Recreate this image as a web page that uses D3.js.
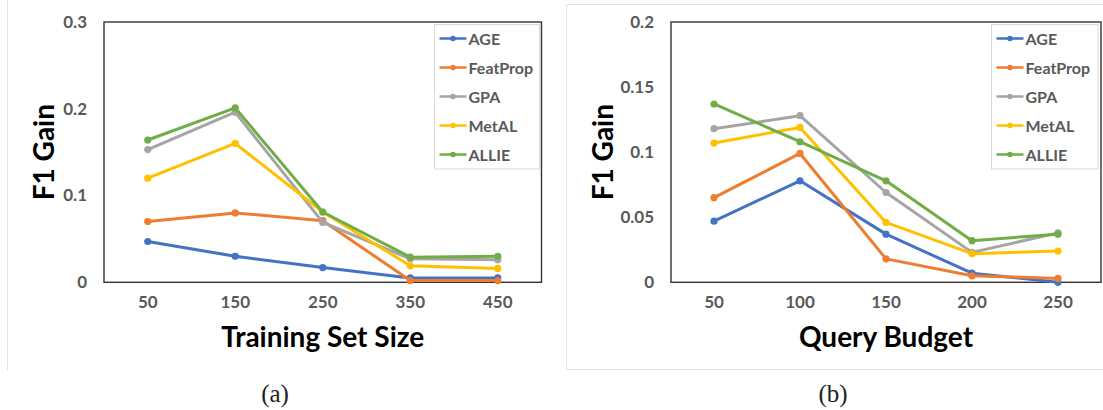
<!DOCTYPE html>
<html>
<head>
<meta charset="utf-8">
<script src="https://cdn.jsdelivr.net/npm/d3@7"></script>
<style>
html, body { margin: 0; padding: 0; background: #ffffff; }
svg { display: block; }
</style>
</head>
<body>
<svg id="chart" width="1103" height="410"></svg>
<script>
// ---------- data ----------
const seriesNames = ["AGE", "FeatProp", "GPA", "MetAL", "ALLIE"];
const seriesColors = ["#4472C4", "#ED7D31", "#A5A5A5", "#FFC000", "#70AD47"];

// Panel (a): Training Set Size
const trainingSizes = ["50", "150", "250", "350", "450"];
const trainAGE      = [0.047, 0.030, 0.017, 0.005, 0.005];
const trainFeatProp = [0.070, 0.080, 0.071, 0.002, 0.002];
const trainGPA      = [0.153, 0.196, 0.069, 0.027, 0.026];
const trainMetAL    = [0.120, 0.160, 0.081, 0.019, 0.016];
const trainALLIE    = [0.164, 0.201, 0.081, 0.029, 0.030];
const trainYTicks   = [0, 0.1, 0.2, 0.3];

// Panel (b): Query Budget
const queryBudgets  = ["50", "100", "150", "200", "250"];
const queryAGE      = [0.047, 0.078, 0.037, 0.007, 0.000];
const queryFeatProp = [0.065, 0.099, 0.018, 0.005, 0.003];
const queryGPA      = [0.118, 0.128, 0.069, 0.023, 0.038];
const queryMetAL    = [0.107, 0.119, 0.046, 0.022, 0.024];
const queryALLIE    = [0.137, 0.108, 0.078, 0.032, 0.037];
const queryYTicks   = [0, 0.05, 0.1, 0.15, 0.2];

const yTitle = "F1 Gain";
const xTitleA = "Training Set Size";
const xTitleB = "Query Budget";
const captionA = "(a)";
const captionB = "(b)";

// ---------- drawing ----------
const svg = d3.select("#chart");
const SANS = "Lato, 'Open Sans', 'Liberation Sans', sans-serif";
const TICK_COLOR = "#595959";

// faint panel borders
svg.append("line")
  .attr("x1", 7.5).attr("x2", 7.5).attr("y1", 0).attr("y2", 370)
  .attr("stroke", "#e4e4e4").attr("stroke-width", 1);
svg.append("rect")
  .attr("x", 566.5).attr("y", 4.5).attr("width", 560).attr("height", 365)
  .attr("fill", "none").attr("stroke", "#e4e4e4").attr("stroke-width", 1);

function drawPanel(cfg) {
  const g = svg.append("g");
  const x = d3.scaleBand().domain(cfg.categories).range([cfg.x0, cfg.x1]).padding(0);
  const cx = c => x(c) + x.bandwidth() / 2;
  const y = d3.scaleLinear().domain([0, cfg.yMax]).range([cfg.y1, cfg.y0]);

  // y axis ticks
  const yAxis = d3.axisLeft(y).tickValues(cfg.yTicks).tickSize(0).tickPadding(17)
    .tickFormat(d => d === 0 ? "0" : String(d));
  const ya = g.append("g").attr("transform", `translate(${cfg.x0},0)`).call(yAxis);
  ya.select(".domain").remove();
  ya.selectAll("text")
    .attr("font-family", SANS).attr("font-weight", "bold").attr("font-size", 17)
    .attr("fill", TICK_COLOR);

  // x axis ticks
  const xAxis = d3.axisBottom(x).tickSize(0).tickPadding(14);
  const xa = g.append("g").attr("transform", `translate(0,${cfg.y1})`).call(xAxis);
  xa.select(".domain").remove();
  xa.selectAll("text")
    .attr("font-family", SANS).attr("font-weight", "bold").attr("font-size", 17)
    .attr("fill", TICK_COLOR);

  // plot frame
  g.append("rect")
    .attr("x", cfg.x0).attr("y", cfg.y0)
    .attr("width", cfg.x1 - cfg.x0).attr("height", cfg.y1 - cfg.y0)
    .attr("fill", "none").attr("stroke", "#333333").attr("stroke-width", 1.4);

  // series
  const line = d3.line().x((d, i) => cx(cfg.categories[i])).y(d => y(d));
  cfg.series.forEach((vals, si) => {
    const sg = g.append("g");
    sg.append("path").datum(vals)
      .attr("d", line).attr("fill", "none")
      .attr("stroke", seriesColors[si]).attr("stroke-width", 3)
      .attr("stroke-linejoin", "round").attr("stroke-linecap", "round");
    sg.selectAll("circle").data(vals).join("circle")
      .attr("cx", (d, i) => cx(cfg.categories[i])).attr("cy", d => y(d))
      .attr("r", 3.6).attr("fill", seriesColors[si]);
  });

  // legend
  const lg = g.append("g");
  lg.append("rect")
    .attr("x", cfg.legX).attr("y", 24.5).attr("width", cfg.legW).attr("height", 144.5)
    .attr("fill", "#ffffff").attr("stroke", "#d9d9d9").attr("stroke-width", 1);
  const ly = d3.scaleLinear().domain([0, 1]).range([38.5, 67.5]);
  seriesNames.forEach((name, i) => {
    const yy = ly(i);
    lg.append("line")
      .attr("x1", cfg.legX + 5).attr("x2", cfg.legX + 32)
      .attr("y1", yy).attr("y2", yy)
      .attr("stroke", seriesColors[i]).attr("stroke-width", 2.5);
    lg.append("circle").attr("cx", cfg.legX + 18.5).attr("cy", yy).attr("r", 2.8)
      .attr("fill", seriesColors[i]);
    lg.append("text")
      .attr("x", cfg.legX + 34).attr("y", yy + 6)
      .attr("font-family", SANS).attr("font-weight", "bold").attr("font-size", 16)
      .attr("fill", TICK_COLOR).text(name);
  });

  // axis titles
  g.append("text")
    .attr("x", (cfg.x0 + cfg.x1) / 2).attr("y", 347)
    .attr("text-anchor", "middle")
    .attr("font-family", SANS).attr("font-weight", "bold").attr("font-size", 28)
    .attr("fill", "#000000").text(cfg.xTitle);
  g.append("text")
    .attr("transform", `translate(${cfg.yTitleX},${(cfg.y0 + cfg.y1) / 2}) rotate(-90)`)
    .attr("text-anchor", "middle")
    .attr("font-family", SANS).attr("font-weight", "bold").attr("font-size", 28)
    .attr("fill", "#000000").text(yTitle);

  // caption
  g.append("text")
    .attr("x", cfg.capX).attr("y", 402)
    .attr("text-anchor", "middle")
    .attr("font-family", "'Liberation Serif', 'DejaVu Serif', serif").attr("font-size", 25)
    .attr("fill", "#222222").text(cfg.caption);
}

drawPanel({
  categories: trainingSizes,
  series: [trainAGE, trainFeatProp, trainGPA, trainMetAL, trainALLIE],
  yMax: 0.3, yTicks: trainYTicks,
  x0: 104, x1: 541.5, y0: 22, y1: 282.3,
  legX: 434.5, legW: 105,
  xTitle: xTitleA, yTitleX: 54, capX: 275, caption: captionA
});

drawPanel({
  categories: queryBudgets,
  series: [queryAGE, queryFeatProp, queryGPA, queryMetAL, queryALLIE],
  yMax: 0.2, yTicks: queryYTicks,
  x0: 671, x1: 1101, y0: 22, y1: 282.3,
  legX: 991.5, legW: 106.5,
  xTitle: xTitleB, yTitleX: 612.5, capX: 833, caption: captionB
});
</script>
</body>
</html>
